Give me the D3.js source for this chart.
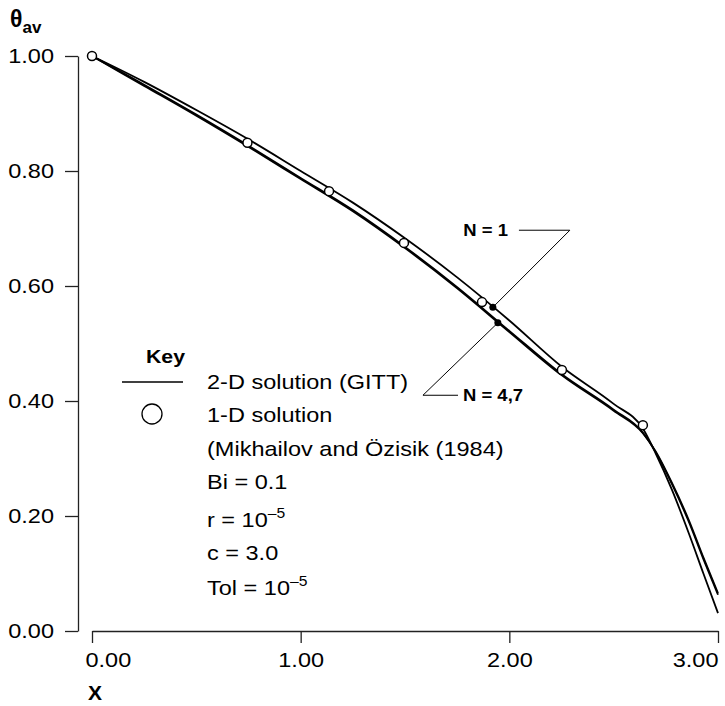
<!DOCTYPE html>
<html>
<head>
  <meta charset="utf-8">
  <title>theta_av vs X</title>
  <style>
    body { margin: 0; background: #fff; }
    svg text { font-family: "Liberation Sans", Arial, sans-serif; fill: #000; }
    .axis path, .axis line { stroke: #222; stroke-width: 1.3; }
    .axis text { font-size: 21px; }
    .curve { fill: none; stroke: #000; stroke-width: 1.8; }
    .leader { fill: none; stroke: #000; stroke-width: 1; }
    .key { font-size: 21px; }
  </style>
</head>
<body>
  <svg id="canvas" width="725" height="706"></svg>
  <script src="https://d3js.org/d3.v7.min.js"></script>
  <script>
    // values
    const xGrid = [0, 0.25, 0.5, 0.745, 1.0, 1.25, 1.5, 1.75, 2.0, 2.25, 2.5, 2.64, 2.70, 2.78, 2.86, 2.93, 3.0];
    const thetaN1 = [1.0, 0.955, 0.906, 0.856, 0.800, 0.745, 0.683, 0.615, 0.540, 0.460, 0.395, 0.352, 0.310, 0.245, 0.170, 0.100, 0.031];
    const thetaN4 = [1.0, 0.950, 0.898, 0.845, 0.788, 0.732, 0.668, 0.598, 0.522, 0.447, 0.385, 0.345, 0.312, 0.255, 0.190, 0.125, 0.063];
    const thetaN7 = [1.0, 0.948, 0.896, 0.843, 0.786, 0.730, 0.666, 0.596, 0.520, 0.445, 0.383, 0.344, 0.313, 0.257, 0.193, 0.128, 0.066];
    const xOneD = [0, 0.745, 1.136, 1.495, 1.869, 2.252, 2.64];
    const thetaOneD = [1.0, 0.849, 0.765, 0.675, 0.572, 0.454, 0.358];
    const yTicks = [0, 0.2, 0.4, 0.6, 0.8, 1.0];
    const xTicks = [0, 1, 2, 3];
    const marks = [
      { label: "N = 1", x: 1.921, y: 0.563, elbow: [2.29, 0.697], end: 2.046 },
      { label: "N = 4,7", x: 1.945, y: 0.536, elbow: [1.586, 0.41], end: 1.754 }
    ];
    const keyLines = ["2-D solution (GITT)", "1-D solution", "(Mikhailov and Özisik (1984)", "Bi = 0.1"];

    // the lettering in the figure is a little wider than Arial
    const sx = 1.12;

    const svg = d3.select("#canvas");
    const x = d3.scaleLinear().domain([0, 3]).range([92, 718]);
    const y = d3.scaleLinear().domain([0, 1]).range([631, 56]);

    // stretched text helper
    const stext = (px, py, str) => svg.append("text")
      .attr("transform", "translate(" + px + "," + py + ") scale(" + sx + ",1)")
      .text(str);

    const yAxis = svg.append("g")
      .attr("class", "axis")
      .attr("transform", "translate(78,0)")
      .call(d3.axisLeft(y).tickValues(yTicks).tickFormat(d3.format(".2f")).tickSize(13).tickSizeOuter(0).tickPadding(11));
    yAxis.selectAll("text").attr("x", -24 / sx).attr("transform", "scale(" + sx + ",1)");

    const xAxis = svg.append("g")
      .attr("class", "axis")
      .attr("transform", "translate(0,631)")
      .call(d3.axisBottom(x).tickValues(xTicks).tickFormat(d3.format(".2f")).tickSize(12).tickSizeOuter(0).tickPadding(9));
    xAxis.selectAll("text")
      .attr("transform", "scale(" + sx + ",1)")
      .attr("text-anchor", d => d == 0 ? "start" : (d == 3 ? "end" : "middle"))
      .attr("x", d => d == 0 ? -7 / sx : 0);

    const line = d3.line().x(d => x(d[0])).y(d => y(d[1])).curve(d3.curveMonotoneX);
    [thetaN1, thetaN4, thetaN7].forEach(series => {
      svg.append("path")
        .attr("class", "curve")
        .attr("d", line(xGrid.map((v, i) => [v, series[i]])));
    });

    svg.selectAll(".oned")
      .data(xOneD.map((v, i) => [v, thetaOneD[i]]))
      .enter().append("circle")
      .attr("class", "oned")
      .attr("cx", d => x(d[0]))
      .attr("cy", d => y(d[1]))
      .attr("r", 4.5)
      .attr("fill", "#fff")
      .attr("stroke", "#000")
      .attr("stroke-width", 1.5);

    // N labels with leader lines
    marks.forEach((m, i) => {
      svg.append("polyline")
        .attr("class", "leader")
        .attr("points", [[x(m.x), y(m.y)], [x(m.elbow[0]), y(m.elbow[1])], [x(m.end), y(m.elbow[1])]].map(p => p.join(",")).join(" "));
      svg.append("circle")
        .attr("cx", x(m.x)).attr("cy", y(m.y)).attr("r", 3.5).attr("fill", "#000");
      stext(i == 0 ? x(m.end) - 11 : x(m.end) + 5, y(m.elbow[1]) + 6, m.label)
        .attr("text-anchor", i == 0 ? "end" : "start")
        .attr("font-weight", "bold")
        .attr("font-size", 16.5);
    });

    // axis titles
    const yt = svg.append("text").attr("x", 10).attr("y", 27).attr("font-weight", "bold").attr("font-size", 23);
    yt.append("tspan").text("θ");
    yt.append("tspan").attr("dy", 6).attr("font-size", 17).text("av");
    svg.append("text").attr("x", 88).attr("y", 700).attr("font-weight", "bold").attr("font-size", 21).text("X");

    // key
    stext(146, 363, "Key").attr("font-weight", "bold").attr("font-size", 19);
    svg.append("line").attr("x1", 122).attr("x2", 183).attr("y1", 382).attr("y2", 382).attr("stroke", "#000").attr("stroke-width", 1.5);
    svg.append("circle").attr("cx", 152).attr("cy", 414).attr("r", 10).attr("fill", "none").attr("stroke", "#000").attr("stroke-width", 1.3);
    const keyY = [389, 422, 456, 489];
    keyLines.forEach((t, i) => {
      stext(207, keyY[i], t).attr("class", "key");
    });
    const sup = (label, yy) => {
      const t = stext(207, yy, "").attr("class", "key");
      t.append("tspan").text(label);
      t.append("tspan").attr("dy", -9).attr("font-size", 14).text("–5");
    };
    sup("r = 10", 527);
    stext(207, 560, "c = 3.0").attr("class", "key");
    sup("Tol = 10", 595);
  </script>
</body>
</html>
